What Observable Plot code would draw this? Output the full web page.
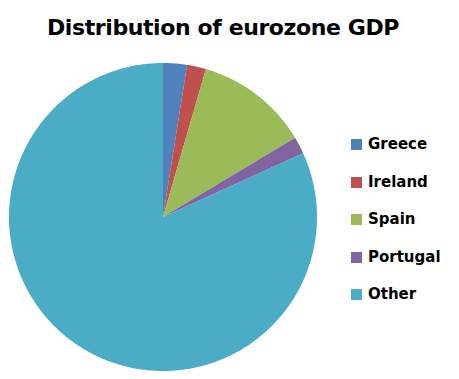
<!DOCTYPE html>
<html>
<head>
<meta charset="utf-8">
<script src="https://cdn.jsdelivr.net/npm/d3@7"></script>
<script src="https://cdn.jsdelivr.net/npm/@observablehq/plot@0.6"></script>
<style>
  body { margin: 0; background: #fff; font-family: "DejaVu Sans", sans-serif; }
  #wrap { position: relative; width: 459px; height: 379px; overflow: hidden; background: #fff; }
  #title { box-sizing: border-box; width: 446px; height: 50px; padding-top: 16px; margin: 0;
           text-align: center; font-weight: 700; font-size: 22px; line-height: 24px; color: #000;
           letter-spacing: -0.4px; }
  #legend { position: absolute; left: 351px; top: 0; }
  .item { position: absolute; left: 0; display: flex; align-items: center; white-space: nowrap; }
  .sw { width: 11px; height: 11px; margin-right: 6px; flex: none; }
  .lab { font-weight: 700; font-size: 15px; line-height: 15px; color: #000; }
</style>
</head>
<body>
<div id="wrap">
  <div id="title">Distribution of eurozone GDP</div>
  <div id="chart"></div>
  <div id="legend"></div>
</div>
<script>
const countries = ["Greece", "Ireland", "Spain", "Portugal", "Other"];
const shares = [2.5, 2.0, 11.9, 1.8, 81.8];
const colors = ["#4F81BD", "#C0504D", "#9BBB59", "#8064A2", "#4BACC6"];

const pie = d3.pie().sort(null).value(d => d.share);
const arcs = pie(countries.map((name, i) => ({name, share: shares[i]})));
const rows = [];
for (const a of arcs) {
  const n = Math.max(2, Math.ceil((a.endAngle - a.startAngle) / (Math.PI / 360)));
  for (let k = 0; k <= n; ++k) {
    const t = a.startAngle + (a.endAngle - a.startAngle) * k / n;
    rows.push({name: a.data.name, x: Math.sin(t), y: Math.cos(t)});
  }
}

const cx = 163, cy = 167, r = 154;
const chart = Plot.plot({
  width: 459,
  height: 329,
  margin: 0,
  x: {domain: [-1, 1], range: [cx - r, cx + r], axis: null},
  y: {domain: [-1, 1], range: [cy + r, cy - r], axis: null},
  color: {domain: countries, range: colors},
  marks: [
    Plot.area(rows, {x1: "x", y1: "y", x2: () => 0, y2: () => 0, z: "name", fill: "name", stroke: "none"})
  ]
});
document.getElementById("chart").appendChild(chart);

const color = chart.scale("color");
const legend = document.getElementById("legend");
countries.forEach((name, i) => {
  const item = document.createElement("div");
  item.className = "item";
  item.style.top = (137 + i * 37.6) + "px";
  const sw = document.createElement("div");
  sw.className = "sw";
  sw.style.background = color.apply(name);
  const lab = document.createElement("span");
  lab.className = "lab";
  lab.textContent = name;
  item.appendChild(sw);
  item.appendChild(lab);
  legend.appendChild(item);
});
</script>
</body>
</html>
